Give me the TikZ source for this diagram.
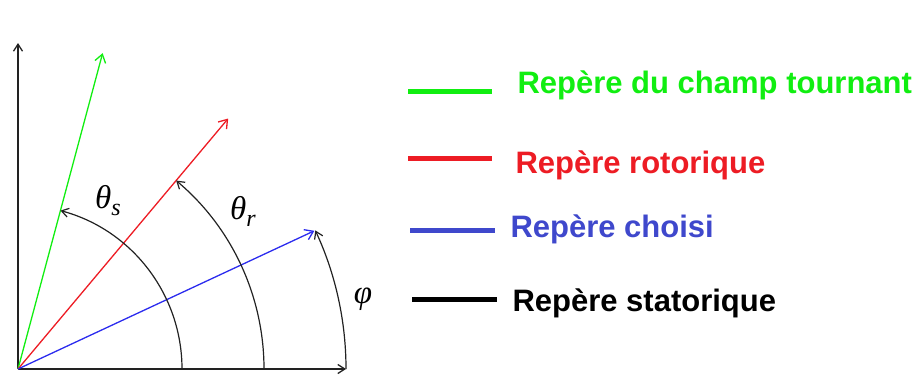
\documentclass[tikz,border=0pt]{standalone}
\usepackage{fontspec}
\setmainfont{Liberation Sans}
\newfontfamily\angfont{Liberation Serif}
\usepackage{tikz}
\usetikzlibrary{arrows.meta,positioning}
\definecolor{FGreen}{HTML}{11EE11}
\definecolor{FRed}{HTML}{ED1C24}
\definecolor{FBlue}{HTML}{2B2BEE}
\definecolor{KBlue}{HTML}{3F48CC}
\definecolor{FInk}{HTML}{222222}
\newcommand{\angsym}[2]{#1\raisebox{-7pt}{\fontsize{24}{26}\selectfont #2}}

\begin{document}
\begin{tikzpicture}[x=1pt,y=1pt,
  axis/.style={-{Straight Barb[length=7pt,width=9pt]},line width=1.3pt,color=FInk},
  vec/.style={-{Straight Barb[length=8pt,width=11pt]},line width=1.3pt},
  ang/.style={-{Straight Barb[length=7pt,width=9pt]},line width=1.2pt,color=FInk},
  angname/.style={inner sep=0pt,font=\angfont\itshape\fontsize{33}{36}\selectfont},
  key/.style={line width=5pt},
  keytext/.style={anchor=west,font=\fontsize{31}{37}\selectfont\bfseries}
]
  \useasboundingbox (0,0) rectangle (917,376);
  % axes of the stator frame
  \coordinate (O) at (18,7);
  \coordinate (xe) at (346,7);
  \coordinate (ye) at (18,333);
  \draw[axis] (O) -- (xe);
  \draw[axis] (O) -- (ye);
  % frame vectors
  \path (O) ++(75:327) coordinate (g);
  \path (O) ++(50:327) coordinate (r);
  \path (O) ++(25:327) coordinate (b);
  \draw[vec,FGreen] (O) -- (g);
  \draw[vec,FRed] (O) -- (r);
  \draw[vec,FBlue] (O) -- (b);
  % angles
  \draw[ang] (O) ++(0:164) arc[start angle=0,end angle=75,radius=164];
  \draw[ang] (O) ++(0:246) arc[start angle=0,end angle=50,radius=246];
  \draw[ang] (xe) arc[start angle=0,end angle=25,radius=328];
  \node[angname] (ts) at (108,175) {\angsym{θ}{s}};
  \node[angname] (tr) at (243,165) {\angsym{θ}{r}};
  \node[angname] (ph) at (363,77) {φ};
  % legend
  \coordinate (k1) at (408,285);
  \coordinate (k2) at (408,218);
  \coordinate (k3) at (410,146);
  \coordinate (k4) at (412,77);
  \draw[key,FGreen] (k1) -- ++(84,0) coordinate (k1e);
  \draw[key,FRed] (k2) -- ++(84,0) coordinate (k2e);
  \draw[key,KBlue] (k3) -- ++(85,0) coordinate (k3e);
  \draw[key,black] (k4) -- ++(85,0) coordinate (k4e);
  \node[keytext,text=FGreen,right=22pt of k1e,yshift=6pt] (l1) {Repère du champ tournant};
  \node[keytext,text=FRed,right=20pt of k2e,yshift=-7pt] (l2) {Repère rotorique};
  \node[keytext,text=KBlue,right=12pt of k3e,yshift=1pt] (l3) {Repère choisi};
  \node[keytext,text=black,right=12pt of k4e,yshift=-4pt] (l4) {Repère statorique};
\end{tikzpicture}
\end{document}
